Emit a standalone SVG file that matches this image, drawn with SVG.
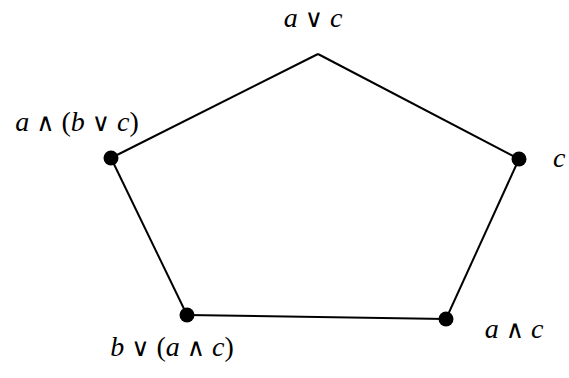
<svg xmlns="http://www.w3.org/2000/svg" width="569" height="378" viewBox="0 0 569 378">
<style>
.edge{stroke:#000;stroke-width:2;fill:none;stroke-linejoin:round}
.dot{fill:#000}
text{font-family:"Liberation Serif","Times New Roman",serif;font-size:28px;fill:#000}
.v{font-style:italic}
.op{font-family:"DejaVu Serif",serif;font-size:25px}
</style>
<rect width="569" height="378" fill="#fff"/>
<g id="connectors">
<line class="edge" x1="318" y1="54" x2="111" y2="158"/>
<line class="edge" x1="318" y1="54" x2="519" y2="159"/>
<line class="edge" x1="111" y1="158" x2="187" y2="315"/>
<line class="edge" x1="519" y1="159" x2="446" y2="319"/>
<line class="edge" x1="187" y1="315" x2="446" y2="319"/>
</g>
<g id="top">
<text x="313" y="27" text-anchor="middle"><tspan class="v">a</tspan> <tspan class="op">∨</tspan> <tspan class="v">c</tspan></text>
</g>
<g id="left">
<circle class="dot" cx="111" cy="158" r="7.5"/>
<text x="77" y="131" text-anchor="middle"><tspan class="v">a</tspan> <tspan class="op">∧</tspan> (<tspan class="v">b</tspan> <tspan class="op">∨</tspan> <tspan class="v">c</tspan>)</text>
</g>
<g id="right">
<circle class="dot" cx="519" cy="159" r="7.5"/>
<text x="553" y="167" class="v">c</text>
</g>
<g id="bottomleft">
<circle class="dot" cx="187" cy="315" r="7.5"/>
<text x="172" y="356" text-anchor="middle"><tspan class="v">b</tspan> <tspan class="op">∨</tspan> (<tspan class="v">a</tspan> <tspan class="op">∧</tspan> <tspan class="v">c</tspan>)</text>
</g>
<g id="bottomright">
<circle class="dot" cx="446" cy="319" r="7.5"/>
<text x="514" y="338" text-anchor="middle"><tspan class="v">a</tspan> <tspan class="op">∧</tspan> <tspan class="v">c</tspan></text>
</g>
</svg>
